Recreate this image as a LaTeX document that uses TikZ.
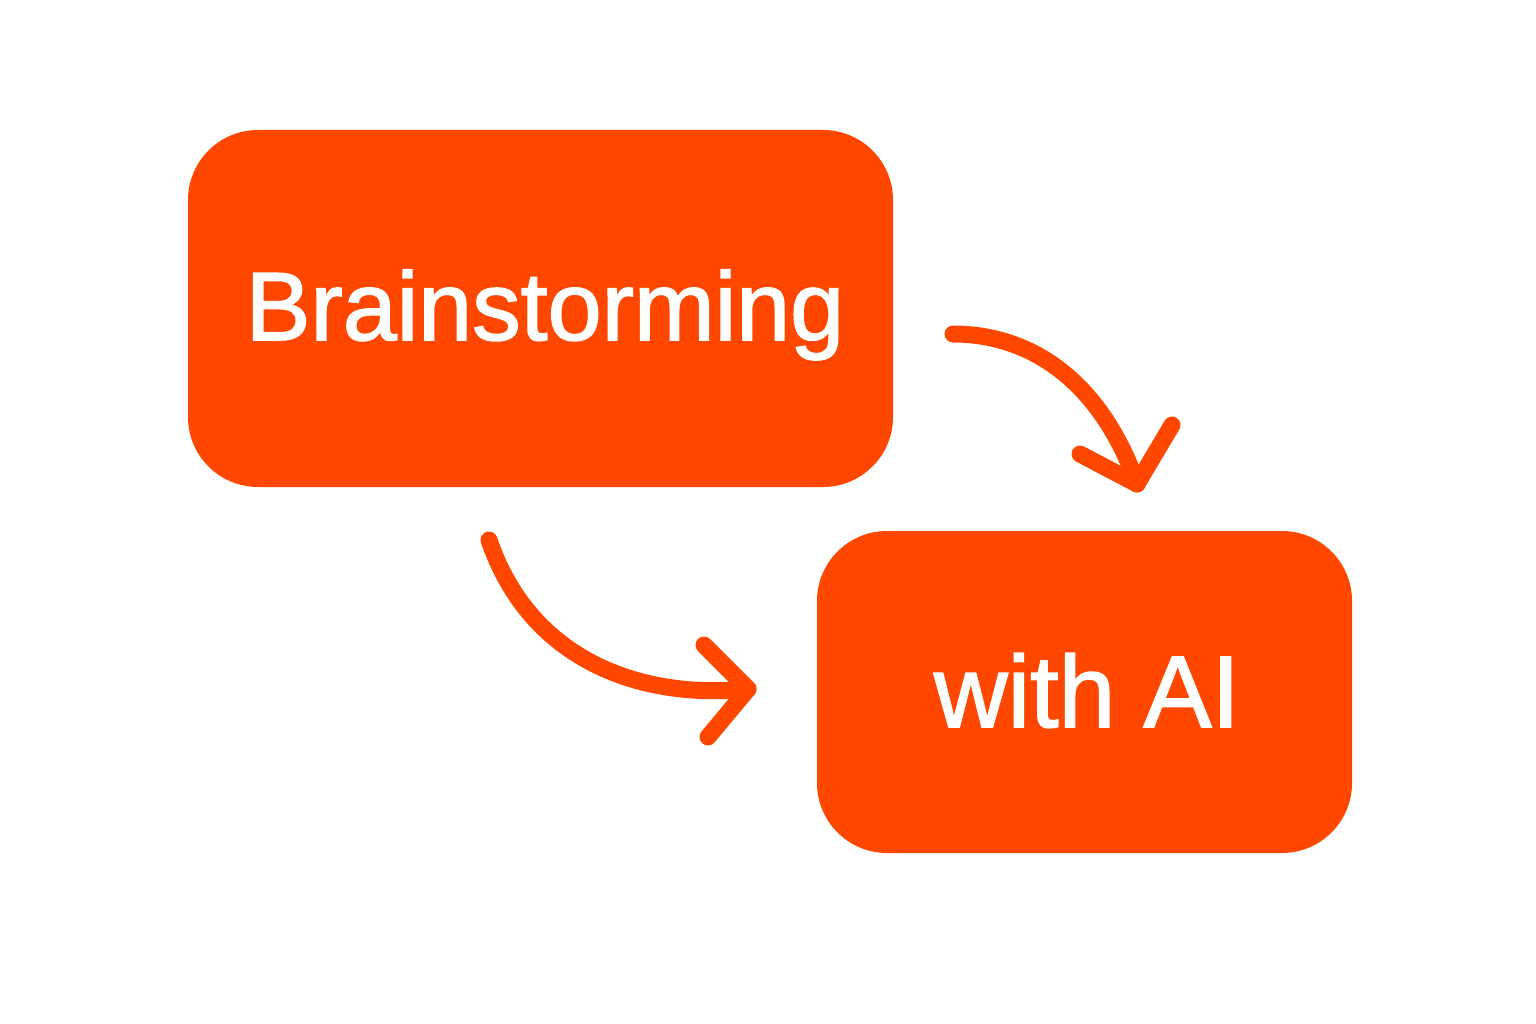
\documentclass[tikz,border=0pt]{standalone}
\usepackage{fontspec}
\setmainfont{Liberation Sans}
\newfontfamily\medfont{Liberation Sans}[FakeBold=1.6]
\definecolor{orng}{HTML}{FF4700}
\begin{document}
\begin{tikzpicture}[x=1pt,y=-1pt,
  box/.style={fill=orng,draw=none,rounded corners=70pt},
  lbl/.style={anchor=base,text=white,inner sep=0},
  conn/.style={draw=orng,line width=17pt,line cap=round,line join=round}]
\useasboundingbox[fill=white] (0,0) rectangle (1536,1024);
\fill[box] (188,130) rectangle (893,487);
\node[lbl,font=\medfont\fontsize{97}{100}\selectfont] (b1) at (545,340) {Brainstorming};
\fill[box] (817,531) rectangle (1352,853);
\node[lbl,font=\medfont\fontsize{102}{106}\selectfont] (b2) at (1087,727) {with AI};
% arrow 1
\coordinate (s1) at (953,334);
\coordinate (t1) at (1137,484);
\coordinate (h1a) at (1080,454);
\coordinate (h1b) at (1172,425);
\draw[conn] (s1) .. controls (1030,334) and (1100,380) .. (t1);
\draw[conn] (h1a) -- (t1) -- (h1b);
% arrow 2
\coordinate (s2) at (489,540);
\coordinate (t2) at (748,689);
\coordinate (h2a) at (704,645);
\coordinate (h2b) at (708,737);
\draw[conn] (s2) .. controls (530,660) and (640,700) .. (t2);
\draw[conn] (h2a) -- (t2) -- (h2b);
\end{tikzpicture}
\end{document}
